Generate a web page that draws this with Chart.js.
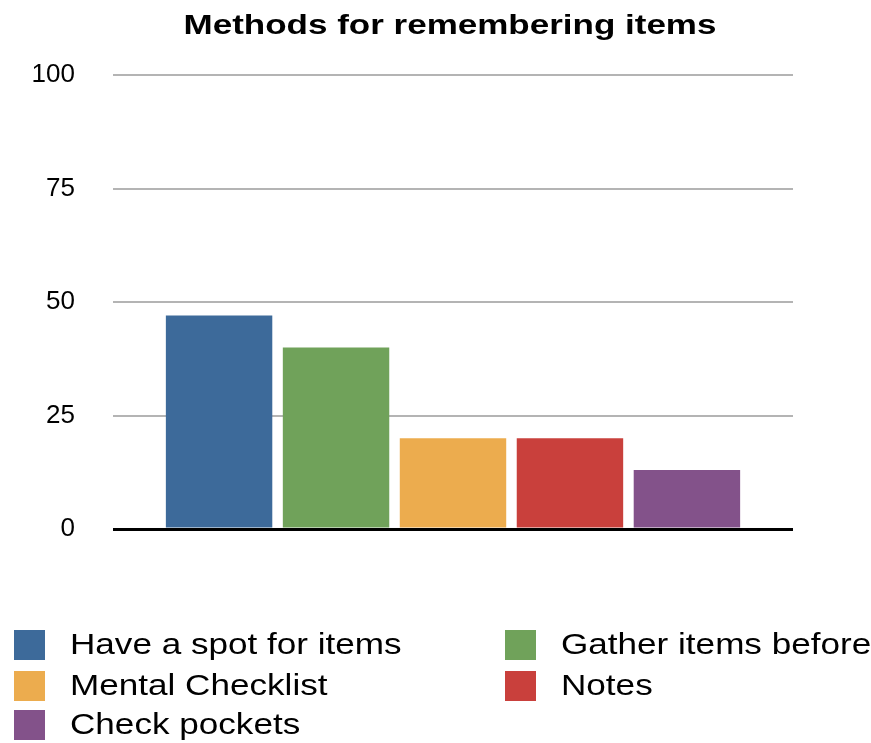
<!DOCTYPE html>
<html>
<head>
<meta charset="utf-8">
<script src="https://cdn.jsdelivr.net/npm/chart.js@4"></script>
<style>
  body { margin: 0; background: #fff; }
  #wrap { width: 871px; height: 743px; position: relative; }
</style>
</head>
<body>
<div id="wrap"><canvas id="methodsChart"></canvas></div>
<script>
const chartTitle = "Methods for remembering items";
const categories = [""];
const seriesNames = ["Have a spot for items", "Gather items before", "Mental Checklist", "Notes", "Check pockets"];
const seriesValues = [47, 40, 20, 20, 13];
const seriesColors = ["#3d6a9a", "#70a25a", "#ecac4e", "#c9403c", "#83528a"];
const yTicks = [0, 25, 50, 75, 100];

const FONT = "'Liberation Sans', Arial, sans-serif";

// the source picture is a bit stretched sideways, so text gets a horizontal scale
function wideText(ctx, text, x, y, sx, align) {
    ctx.save();
    ctx.translate(x, y);
    ctx.scale(sx, 1);
    ctx.textAlign = align;
    ctx.fillText(text, 0, 0);
    ctx.restore();
}

const titleAndLegend = {
    id: "titleAndLegend",
    afterDraw(chart) {
        const ctx = chart.ctx;
        ctx.save();
        ctx.fillStyle = "#000";
        ctx.textBaseline = "middle";
        ctx.font = "bold 28px " + FONT;
        wideText(ctx, chartTitle, 450, 26, 1.25, "center");

        // two column legend
        const colX = [14, 505];
        const rowY = [645, 686, 725];
        ctx.font = "30px " + FONT;
        chart.data.datasets.forEach((ds, i) => {
            const x = colX[i % 2];
            const y = rowY[Math.floor(i / 2)];
            ctx.fillStyle = ds.backgroundColor;
            ctx.fillRect(x, y - 15, 31, 30);
            ctx.fillStyle = "#000";
            wideText(ctx, ds.label, x + 56, y + 1, 1.17, "left");
        });
        ctx.restore();
    }
};

const ctx = document.getElementById("methodsChart").getContext("2d");
new Chart(ctx, {
    type: "bar",
    data: {
        labels: categories,
        datasets: seriesNames.map((name, i) => ({
            label: name,
            data: [seriesValues[i]],
            backgroundColor: seriesColors[i],
            borderWidth: 0
        }))
    },
    options: {
        responsive: true,
        maintainAspectRatio: false,
        animation: false,
        categoryPercentage: 0.86,
        barPercentage: 0.91,
        layout: { padding: { left: 0, right: 78, top: 75, bottom: 214 } },
        plugins: {
            legend: { display: false },
            tooltip: { enabled: false },
            title: { display: false }
        },
        scales: {
            x: { display: false },
            y: {
                min: 0,
                max: 100,
                afterBuildTicks: axis => { axis.ticks = yTicks.map(v => ({ value: v })); },
                afterFit: axis => { axis.width = 113; },
                border: { display: false },
                grid: {
                    drawTicks: false,
                    color: c => c.tick && c.tick.value === 0 ? "#000" : "#b4b4b4",
                    lineWidth: c => c.tick && c.tick.value === 0 ? 3 : 2
                },
                ticks: {
                    color: "#000",
                    padding: 38,
                    font: { family: FONT, size: 26 }
                }
            }
        }
    },
    plugins: [titleAndLegend]
});
</script>
</body>
</html>
